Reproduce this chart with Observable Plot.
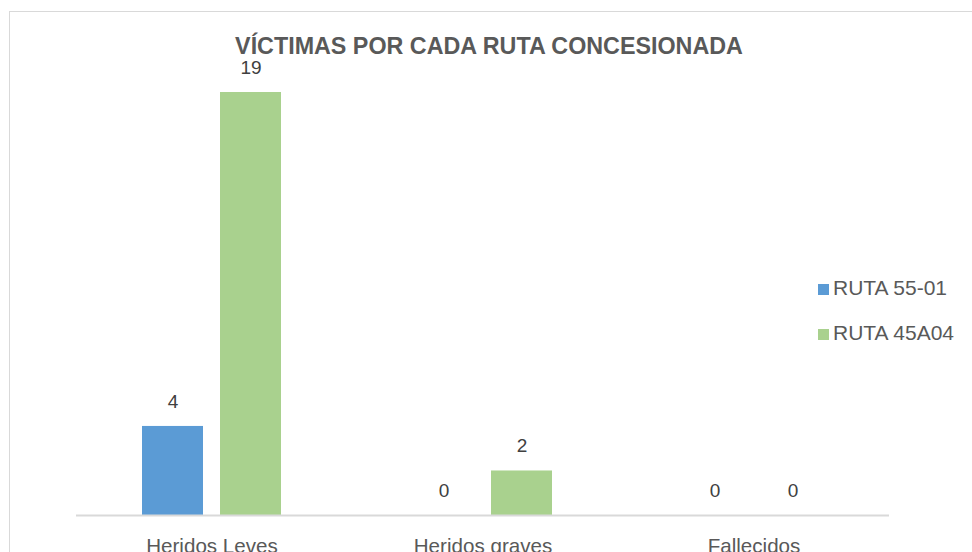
<!DOCTYPE html>
<html>
<head>
<meta charset="utf-8">
<script src="https://cdn.jsdelivr.net/npm/d3@7"></script>
<script src="https://cdn.jsdelivr.net/npm/@observablehq/plot@0.6"></script>
<style>
  html, body { margin: 0; padding: 0; background: #fff; }
  #wrap { position: relative; width: 972px; height: 552px; overflow: hidden; font-family: "Liberation Sans", Arial, sans-serif; }
  #frame { position: absolute; left: 9px; top: 11px; width: 1100px; height: 700px; border: 1.5px solid #d9d9d9; box-sizing: border-box; }
  #title { position: absolute; left: 0; width: 978px; top: 37px; text-align: center; font-weight: bold; font-size: 23.3px; color: #595959; line-height: 18px; }
  .leg { position: absolute; left: 818px; font-size: 21px; color: #595959; line-height: 22px; white-space: nowrap; }
  .leg i { display: inline-block; width: 11px; height: 11px; margin-right: 4px; vertical-align: 0px; }
  #chart { position: absolute; left: 0; top: 0; }
</style>
</head>
<body>
<div id="wrap">
  <div id="frame"></div>
  <div id="chart"></div>
  <div id="title">VÍCTIMAS POR CADA RUTA CONCESIONADA</div>
  <div id="legend"></div>
</div>
<script>
const categories = ["Heridos Leves", "Heridos graves", "Fallecidos"];
const series = ["RUTA 55-01", "RUTA 45A04"];
const ruta5501 = [4, 0, 0];
const ruta45a04 = [19, 2, 0];
const colors = ["#5B9BD5", "#A9D18E"];

const data = [];
categories.forEach((c, i) => {
  data.push({cat: c, serie: series[0], value: ruta5501[i]});
  data.push({cat: c, serie: series[1], value: ruta45a04[i]});
});

const chart = Plot.plot({
  width: 972,
  height: 552,
  marginLeft: 75,
  marginRight: 82,
  marginTop: 92,
  marginBottom: 37,
  style: {fontFamily: "Liberation Sans, Arial, sans-serif", fontSize: "20.6px", color: "#595959", background: "transparent"},
  fx: {domain: categories, padding: 0, axis: "bottom", tickSize: 0, tickPadding: 23, label: null},
  x: {domain: series, paddingInner: 0.215, paddingOuter: 0.826, axis: null},
  y: {domain: [0, 19], axis: null},
  color: {domain: series, range: colors},
  marks: [
    Plot.barY(data, {fx: "cat", x: "serie", y: "value", fill: "serie"}),
    Plot.ruleY([0], {stroke: "#d9d9d9", strokeWidth: 2}),
    Plot.text(data, {fx: "cat", x: "serie", y: "value", text: d => String(d.value), dy: -25, fill: "#404040", fontSize: 19})
  ]
});
document.getElementById("chart").appendChild(chart);

const legend = document.getElementById("legend");
series.forEach((s, i) => {
  const div = document.createElement("div");
  div.className = "leg";
  div.style.top = (277 + i * 45) + "px";
  const sw = document.createElement("i");
  sw.style.background = colors[i];
  div.appendChild(sw);
  div.appendChild(document.createTextNode(s));
  legend.appendChild(div);
});
</script>
</body>
</html>
